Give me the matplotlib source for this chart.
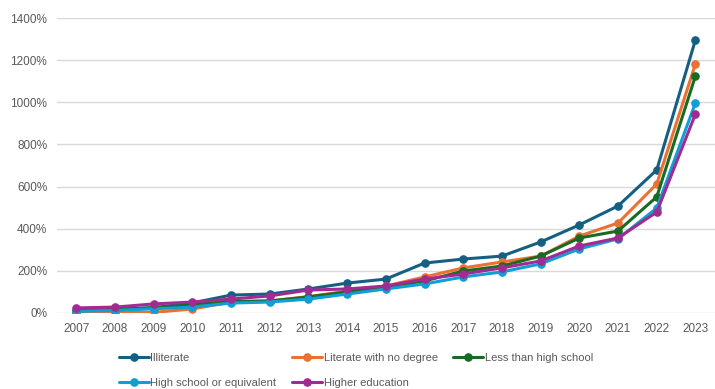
import matplotlib
matplotlib.use('Agg')
import matplotlib.pyplot as plt
from matplotlib.ticker import FuncFormatter

years = [str(y) for y in range(2007, 2024)]

illiterate = [10, 18, 25, 48, 85, 90, 114, 142, 161, 237, 256, 270, 337, 418, 508, 679, 1296]
literate_no_degree = [5, 5, 3, 19, 52, 57, 78, 104, 128, 171, 214, 242, 270, 365, 427, 612, 1182]
less_than_hs = [10, 15, 25, 40, 55, 57, 76, 100, 123, 152, 199, 223, 270, 356, 389, 551, 1125]
high_school = [8, 12, 20, 28, 47, 52, 66, 90, 114, 138, 171, 195, 233, 304, 352, 498, 997]
higher_edu = [24, 28, 43, 52, 66, 81, 109, 114, 128, 161, 185, 214, 247, 318, 356, 479, 944]

series_names = ["Illiterate", "Literate with no degree", "Less than high school",
                "High school or equivalent", "Higher education"]
series_values = [illiterate, literate_no_degree, less_than_hs, high_school, higher_edu]
colors = ['#156082', '#E97132', '#196B24', '#0F9ED5', '#A02B93']

plt.rcParams['font.family'] = ['Liberation Sans', 'DejaVu Sans']

fig = plt.figure(figsize=(7.15, 3.89), dpi=100)
ax = fig.add_axes([0.0797, 0.1954, 0.92, 0.7583])

x = list(range(len(years)))
handles = []
for name, vals, c in zip(series_names, series_values, colors):
    h, = ax.plot(x, vals, color=c, lw=2.2, marker='o', markersize=5.2,
                 label=name, solid_capstyle='round')
    handles.append(h)

ax.set_xlim(-0.5, len(years) - 0.5)
ax.set_ylim(0, 1400)
ax.set_yticks(range(0, 1401, 200))
ax.yaxis.set_major_formatter(FuncFormatter(lambda v, p: f"{int(v)}%"))
ax.set_xticks(x)
ax.set_xticklabels(years)
ax.tick_params(length=0, labelsize=8.5, labelcolor='#595959', pad=7)
ax.yaxis.grid(True, color='#D9D9D9', lw=1)
ax.set_axisbelow(True)
for s in ax.spines.values():
    s.set_visible(False)

# column-major fill: reorder so rows read left to right
order = [0, 3, 1, 4, 2]
leg = fig.legend([handles[i] for i in order], [series_names[i] for i in order],
                 ncol=3, loc='center left', bbox_to_anchor=(0.152, 0.047), frameon=False,
                 fontsize=8, handlelength=2.7, handletextpad=0.15, columnspacing=1.4,
                 labelspacing=1.35)
for t in leg.get_texts():
    t.set_color('#595959')

fig.savefig('out.png', dpi=100, facecolor='white')
